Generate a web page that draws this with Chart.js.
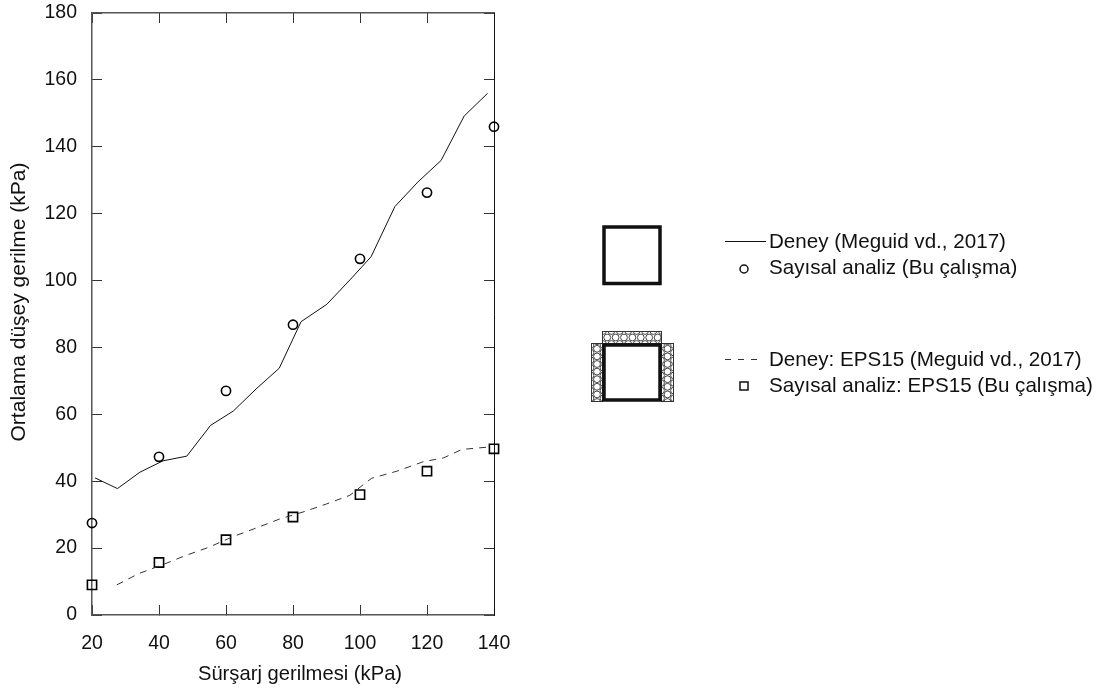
<!DOCTYPE html>
<html><head><meta charset="utf-8"><style>html,body{margin:0;padding:0;background:#fff}canvas{display:block}</style>
<script src="https://cdn.jsdelivr.net/npm/chart.js@4/dist/chart.umd.min.js"></script></head>
<body><canvas id="c" width="1103" height="689"></canvas>
<script>
const xTicks=[20,40,60,80,100,120,140];
const yTicks=[0,20,40,60,80,100,120,140,160,180];
const deneyX=[20.9,27.6,34.3,41.2,48.3,55.4,62.2,69,75.9,82.4,90.1,97,103.3,110.4,117.3,124.2,131.1,138.1];
const deneyY=[41,37.8,42.7,46.1,47.5,56.7,61,67.6,73.8,87.7,92.9,100.2,107.1,122.1,129.5,135.9,149.2,156];
const epsX=[27.4,34,41,48,55,62,69,76,83,90,97,101.5,103.5,111,118.8,125,130.4,139.3];
const epsY=[9,12.4,15,17.8,20.3,23.4,26,28.7,30.8,33.2,35.8,39.4,40.9,43,45.8,47,49.5,50.3];
const analizX=[20,40,60,80,100,120,140];
const analizY=[27.5,47.3,67,86.8,106.5,126.3,146];
const analizEpsY=[9,15.7,22.5,29.3,36,43,49.7];
const legendLabels=["Deney (Meguid vd., 2017)","Sayısal analiz (Bu çalışma)","Deney: EPS15 (Meguid vd., 2017)","Sayısal analiz: EPS15 (Bu çalışma)"];
const FONT='"Liberation Sans", Arial, sans-serif';
const pts=(xs,ys)=>xs.map((x,i)=>({x,y:ys[i]}));
const shiftTitle=(dx,dy)=>s=>{if(!s._sh){const d=s.drawTitle;s.drawTitle=function(){const c=this.ctx;c.save();c.translate(dx,dy);d.call(this);c.restore();};s._sh=true;}};
const noPad=s=>{s.paddingTop=s.paddingBottom=s.paddingLeft=s.paddingRight=0;};
const tickCol='#333',AX='#555';
const gridOpt={drawOnChartArea:false,drawTicks:true,tickLength:-10,color:tickCol,lineWidth:1};
function hatch(ctx,x,y,w,h,horizontal){
  ctx.save();ctx.beginPath();ctx.rect(x,y,w,h);ctx.clip();
  ctx.strokeStyle='#333';ctx.lineWidth=0.9;
  const r=3.4;
  if(horizontal){
    const a=8.4,b=6.5;
    for(let j=0;j<3;j++)for(let i=-1;i<10;i++){
      ctx.beginPath();ctx.arc(x+i*a+(j%2?a/2:0)+1,y+6.5+(j-1)*b,r,0,2*Math.PI);ctx.stroke();}
  }else{
    const a=7.6,b=6.5;
    for(let j=0;j<3;j++)for(let i=-1;i<10;i++){
      ctx.beginPath();ctx.arc(x+w/2+(j-1)*b,y+i*a+(j%2?a/2:0)+2,r,0,2*Math.PI);ctx.stroke();}
  }
  ctx.restore();
  ctx.strokeStyle='#333';ctx.lineWidth=1;ctx.strokeRect(x+.5,y+.5,w-1,h-1);
}
const decor={id:'decor',afterDraw(ch){
  const c=ch.ctx;c.save();
  c.fillStyle='#fff';
  c.strokeStyle='#111';c.lineWidth=3.5;
  c.strokeRect(604,227,56,56.5);
  hatch(c,602,331,60,13,true);
  hatch(c,591,343,12,59,false);
  hatch(c,661,343,13,59,false);
  c.fillStyle='#fff';c.fillRect(604,345,56,55);
  c.strokeStyle='#111';c.lineWidth=3.5;c.strokeRect(604,345,56,55);
  c.fillStyle='#111';c.font='20.6px '+FONT;c.textBaseline='middle';c.textAlign='left';
  const ys=[242,268,360,386];
  legendLabels.forEach((t,i)=>c.fillText(t,769,ys[i]));
  c.strokeStyle='#111';c.lineWidth=1;
  c.beginPath();c.moveTo(725,241.5);c.lineTo(766,241.5);c.stroke();
  c.setLineDash([6,7]);c.strokeStyle='#333';c.beginPath();c.moveTo(725,359.5);c.lineTo(757,359.5);c.stroke();c.setLineDash([]);
  c.strokeStyle='#111';c.lineWidth=1.5;
  c.beginPath();c.arc(744,269,4,0,2*Math.PI);c.stroke();
  c.strokeRect(740,382,8,8);
  c.restore();
}};
new Chart(document.getElementById('c'),{
  type:'scatter',
  data:{datasets:[
    {data:pts(deneyX,deneyY),showLine:true,borderColor:'#111',borderWidth:1,pointRadius:0,clip:false},
    {data:pts(epsX,epsY),showLine:true,borderColor:'#333',borderWidth:1,borderDash:[7,6],pointRadius:0,clip:false},
    {data:pts(analizX,analizY),showLine:false,pointStyle:'circle',pointRadius:4.6,borderColor:'#000',backgroundColor:'rgba(0,0,0,0)',pointBorderWidth:1.6,clip:false},
    {data:pts(analizX,analizEpsY),showLine:false,pointStyle:'rect',pointRadius:6.5,borderColor:'#000',backgroundColor:'rgba(0,0,0,0)',pointBorderWidth:1.6,clip:false}
  ]},
  options:{
    responsive:false,animation:false,
    layout:{autoPadding:false,padding:{left:0,top:13,right:609,bottom:0}},
    plugins:{legend:{display:false},tooltip:{enabled:false},title:{display:false}},
    scales:{
      x:{type:'linear',position:'bottom',min:20,max:140,
        afterBuildTicks:s=>{s.ticks=xTicks.map(v=>({value:v}));},
        afterFit:s=>{s.height=74;noPad(s);shiftTitle(7,-2)(s);},
        grid:gridOpt,border:{display:true,color:AX,width:1.5},
        ticks:{padding:27,color:'#111',font:{family:FONT,size:19.5},maxRotation:0,autoSkip:false},
        title:{display:true,text:'Sürşarj gerilmesi (kPa)',color:'#111',font:{family:FONT,size:20.2},padding:{top:0,bottom:0}}},
      y:{type:'linear',position:'left',min:0,max:180,
        afterBuildTicks:s=>{s.ticks=yTicks.map(v=>({value:v}));},
        afterFit:s=>{s.width=92;noPad(s);shiftTitle(0,-12)(s);},
        grid:gridOpt,border:{display:true,color:AX,width:1.5},
        ticks:{padding:25,color:'#111',font:{family:FONT,size:19.5},autoSkip:false},
        title:{display:true,text:'Ortalama düşey gerilme (kPa)',color:'#111',font:{family:FONT,size:21},padding:{top:7,bottom:0}}},
      xTop:{type:'linear',position:'top',min:20,max:140,
        afterBuildTicks:s=>{s.ticks=xTicks.map(v=>({value:v}));},
        afterFit:s=>{s.height=0;noPad(s);},
        grid:gridOpt,border:{display:true,color:AX,width:1.5},ticks:{display:false}},
      yRight:{type:'linear',position:'right',min:0,max:180,
        afterBuildTicks:s=>{s.ticks=yTicks.map(v=>({value:v}));},
        afterFit:s=>{s.width=0;noPad(s);},
        grid:gridOpt,border:{display:true,color:'#111',width:1},ticks:{display:false}}
    }
  },
  plugins:[decor]
});
</script></body></html>
